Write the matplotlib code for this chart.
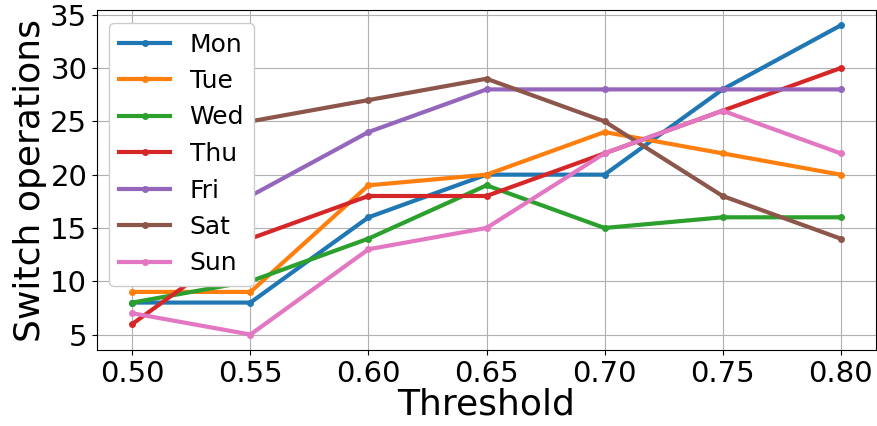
import matplotlib
matplotlib.use("Agg")
import matplotlib.pyplot as plt

thresholds = [0.50, 0.55, 0.60, 0.65, 0.70, 0.75, 0.80]
mon = [8, 8, 16, 20, 20, 28, 34]
tue = [9, 9, 19, 20, 24, 22, 20]
wed = [8, 10, 14, 19, 15, 16, 16]
thu = [6, 14, 18, 18, 22, 26, 30]
fri = [10, 18, 24, 28, 28, 28, 28]
sat = [22, 25, 27, 29, 25, 18, 14]
sun = [7, 5, 13, 15, 22, 26, 22]

series = [("Mon", mon), ("Tue", tue), ("Wed", wed), ("Thu", thu),
          ("Fri", fri), ("Sat", sat), ("Sun", sun)]

fig = plt.figure(figsize=(8.78, 4.26), dpi=100)
ax = fig.add_axes([97/878, 1 - 350/426, (876-97)/878, (350-10)/426])
for name, vals in series:
    ax.plot(thresholds, vals, marker="o", markersize=4, linewidth=3, label=name)

ax.set_xticks(thresholds)
ax.set_xticklabels([f"{t:.2f}" for t in thresholds])
ax.set_yticks([5, 10, 15, 20, 25, 30, 35])
ax.tick_params(labelsize=21)
ax.set_xlabel("Threshold", fontsize=26, labelpad=0)
ax.set_ylabel("Switch operations", fontsize=26, labelpad=2)
ax.grid(True)
ax.legend(fontsize=18, loc="upper left", framealpha=1)
fig.savefig("out.png", dpi=100)
